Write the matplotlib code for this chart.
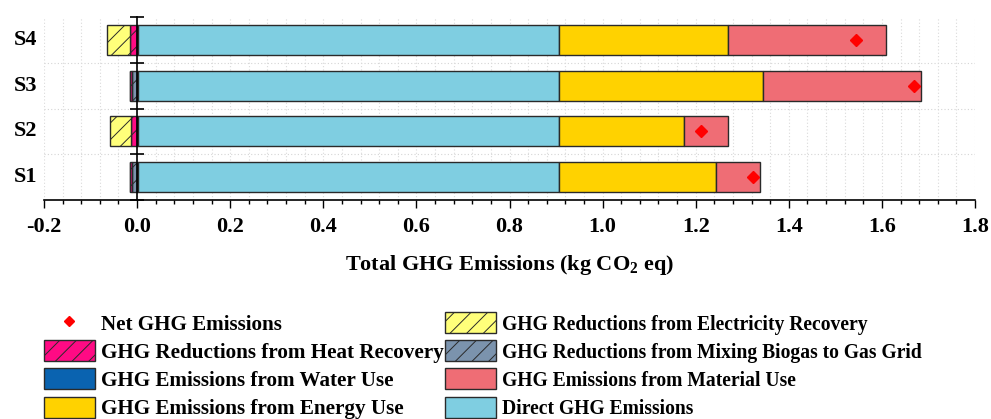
import numpy as np
import matplotlib
matplotlib.use("Agg")
import matplotlib.pyplot as plt
from matplotlib.ticker import MultipleLocator
from matplotlib.transforms import blended_transform_factory

plt.rcParams['font.family'] = ['Liberation Serif', 'DejaVu Serif']
plt.rcParams['font.weight'] = 'bold'
plt.rcParams['mathtext.default'] = 'regular'
plt.rcParams['hatch.linewidth'] = 0.7

# scenarios, bottom to top
scenarios = ['S1', 'S2', 'S3', 'S4']

# negative contributions (kg CO2 eq), stacked outward from zero
biogas_grid = [-0.010, 0.0, -0.010, 0.0]
heat_recovery = [-0.006, -0.014, -0.006, -0.016]
elec_recovery = [0.0, -0.044, 0.0, -0.048]

# positive contributions, stacked from zero
water_use = [0.001, 0.001, 0.001, 0.001]
direct = [0.905, 0.905, 0.905, 0.905]
energy_use = [0.337, 0.269, 0.438, 0.363]
material_use = [0.096, 0.095, 0.340, 0.340]

net_ghg = [1.323, 1.211, 1.668, 1.545]

fig = plt.figure(figsize=(9.91, 4.19), dpi=100)
ax = fig.add_axes([0.0444, 0.5227, 0.9395, 0.4367])

y = np.arange(1, len(scenarios) + 1)
h = 0.66
edge = dict(edgecolor='#2a2a2a', linewidth=1.0)

# negative side
left = np.zeros(len(y))
neg = [
    (biogas_grid, '#7B93AD', '//', 'GHG Reductions from Mixing Biogas to Gas Grid'),
    (heat_recovery, '#FF0A84', '//', 'GHG Reductions from Heat Recovery'),
    (elec_recovery, '#FFFF7A', '//', 'GHG Reductions from Electricity Recovery'),
]
handles = {}
for vals, col, hatch, lab in neg:
    vals = np.array(vals)
    handles[lab] = ax.barh(y, vals, left=left, height=h, color=col, hatch=hatch, label=lab, **edge)
    left = left + vals

left = np.zeros(len(y))
pos = [
    (water_use, '#0A63B0', 'GHG Emissions from Water Use'),
    (direct, '#7FCEE1', 'Direct GHG Emissions'),
    (energy_use, '#FFD200', 'GHG Emissions from Energy Use'),
    (material_use, '#EF6D75', 'GHG Emissions from Material Use'),
]
for vals, col, lab in pos:
    vals = np.array(vals)
    handles[lab] = ax.barh(y, vals, left=left, height=h, color=col, label=lab, **edge)
    left = left + vals

handles['Net GHG Emissions'] = ax.plot(net_ghg, y, linestyle='none', marker='D', color='#FF0000',
                                       markersize=6, zorder=5, label='Net GHG Emissions')[0]

ax.set_xlim(-0.2, 1.8)
ax.set_ylim(0.5, 4.5)
ax.xaxis.set_minor_locator(MultipleLocator(0.04))
ax.set_xticks(np.arange(-0.2, 1.81, 0.2))
ax.set_xticklabels(['%.1f' % v for v in np.arange(-0.2, 1.81, 0.2)])
ax.tick_params(axis='x', which='major', direction='out', length=6, width=1, labelsize=16, pad=6)
ax.tick_params(axis='x', which='minor', direction='out', length=3, width=1)

ax.set_yticks([0.5, 1.5, 2.5, 3.5, 4.5])
ax.set_yticklabels([])
ax.tick_params(axis='y', which='major', direction='inout', length=10, width=1.2)

ax.spines['left'].set_position(('data', 0))
ax.spines['left'].set_linewidth(1.2)
ax.spines['bottom'].set_linewidth(1.2)
ax.spines['top'].set_visible(False)
ax.spines['right'].set_visible(False)

ax.grid(axis='x', which='both', color='#DADADA', linestyle=(0, (1, 2)), linewidth=0.8)
for yy in [1.5, 2.5, 3.5]:
    ax.axhline(yy, color='#D5D5D5', linestyle=(0, (1, 2)), linewidth=0.8, zorder=0.5)
ax.set_axisbelow(True)

trans = blended_transform_factory(ax.transAxes, ax.transData)
for yi, s in zip(y, scenarios):
    ax.text(-0.007, yi, s, transform=trans, ha='right', va='center', fontsize=16, fontweight='bold')

ax.set_xlabel('Total GHG Emissions (kg CO$_2$ eq)', fontsize=16, fontweight='bold', labelpad=12)

order = ['Net GHG Emissions', 'GHG Reductions from Heat Recovery', 'GHG Emissions from Water Use',
         'GHG Emissions from Energy Use', 'GHG Reductions from Electricity Recovery',
         'GHG Reductions from Mixing Biogas to Gas Grid', 'GHG Emissions from Material Use',
         'Direct GHG Emissions']
leg = fig.legend([handles[k] for k in order], order, loc='upper left', bbox_to_anchor=(0.036, 0.275),
                 ncol=2, frameon=False, handlelength=2.4, handleheight=1.15, markerscale=0.85,
                 handletextpad=0.3, labelspacing=0.26, columnspacing=0.05, borderaxespad=0,
                 prop={'weight': 'bold', 'size': 15.2})
# right-hand column is set slightly narrower in the original
for t in leg.get_texts()[4:]:
    t.set_fontsize(14.1)

fig.savefig('out.png', dpi=100)
